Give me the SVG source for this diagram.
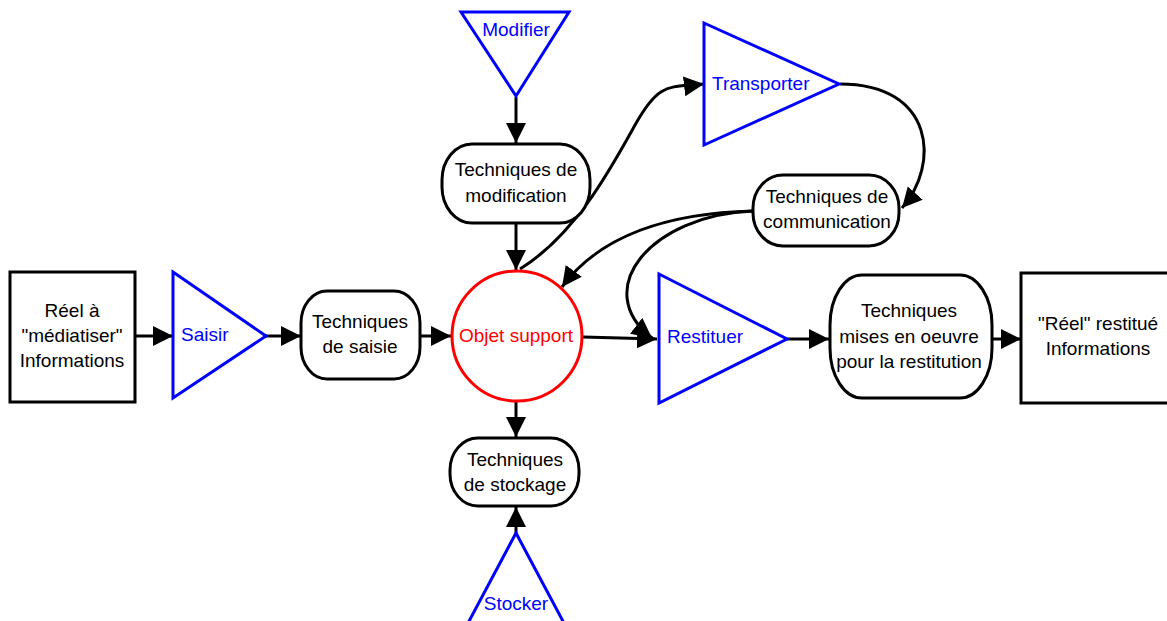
<svg xmlns="http://www.w3.org/2000/svg" width="1167" height="621" viewBox="0 0 1167 621">
<defs>
<marker id="ah" markerUnits="userSpaceOnUse" markerWidth="21" markerHeight="21" refX="20" refY="10" orient="auto" viewBox="0 0 21 21">
<path d="M0,0 L20,10 L0,20 z" fill="#000"/>
</marker>
<style>
.t{font-family:"Liberation Sans",Arial,sans-serif;font-size:19px;fill:#000;text-anchor:middle}
.b{fill:#1a1aff;fill:#0000ff}
.bl{fill:#fff;stroke:#000;stroke-width:3}
.tri{fill:#fff;stroke:#0000ff;stroke-width:3}
.c{fill:none;stroke:#000;stroke-width:3;marker-end:url(#ah)}
</style>
</defs>
<rect width="1167" height="621" fill="#fff"/>
<g id="connectors">
<path class="c" d="M135 336 L173 336"/>
<path class="c" d="M266 336 L301 336"/>
<path class="c" d="M420 336 L451 336"/>
<path class="c" d="M583 337 L657 339"/>
<path class="c" d="M787 339 L829 339"/>
<path class="c" d="M992 339 L1021 339"/>
<path class="c" d="M516 97 L516 143"/>
<path class="c" d="M516 223 L516 270"/>
<path class="c" d="M516 401 L516 437"/>
<path class="c" d="M516 533 L516 507"/>
<path class="c" d="M520 269 C575 235 610 170 635 125 S670 88 704 84"/>
<path class="c" d="M840 84 C935 84 940 165 902 208"/>
<path class="c" d="M753 211 C670 213 600 235 562 287"/>
<path class="c" d="M753 211 C650 215 590 290 652 338"/>
</g>
<g id="reel">
<rect class="bl" x="10" y="272" width="125" height="130"/>
<text class="t" x="72" y="317">Réel à</text>
<text class="t" x="72" y="342">"médiatiser"</text>
<text class="t" x="72" y="367">Informations</text>
</g>
<g id="saisir">
<polygon class="tri" points="173,272 266,336 173,398"/>
<text class="t b" x="181" y="341" style="text-anchor:start">Saisir</text>
</g>
<g id="tech-saisie">
<rect class="bl" x="301" y="291" width="119" height="88" rx="26" ry="32"/>
<text class="t" x="360" y="328">Techniques</text>
<text class="t" x="360" y="353">de saisie</text>
</g>
<g id="objet">
<circle cx="517" cy="336" r="65" fill="#fff" stroke="#ff0000" stroke-width="3"/>
<text class="t" x="516" y="342" style="fill:#ff0000">Objet support</text>
</g>
<g id="modifier">
<polygon class="tri" points="461,12 569,12 516,96"/>
<text class="t b" x="516" y="36">Modifier</text>
</g>
<g id="tech-modif">
<rect class="bl" x="442" y="144" width="148" height="79" rx="30" ry="36"/>
<text class="t" x="516" y="176">Techniques de</text>
<text class="t" x="516" y="202">modification</text>
</g>
<g id="transporter">
<polygon class="tri" points="704,23 839,84 704,145"/>
<text class="t b" x="712" y="90" style="text-anchor:start">Transporter</text>
</g>
<g id="tech-comm">
<rect class="bl" x="753" y="175" width="146" height="71" rx="30" ry="33"/>
<text class="t" x="827" y="203">Techniques de</text>
<text class="t" x="827" y="228">communication</text>
</g>
<g id="restituer">
<polygon class="tri" points="659,274 787,339 659,403"/>
<text class="t b" x="667" y="343" style="text-anchor:start">Restituer</text>
</g>
<g id="tech-restit">
<rect class="bl" x="830" y="275" width="162" height="123" rx="32" ry="50"/>
<text class="t" x="909" y="317">Techniques</text>
<text class="t" x="909" y="343">mises en oeuvre</text>
<text class="t" x="909" y="368">pour la restitution</text>
</g>
<g id="reel-restitue">
<rect class="bl" x="1021" y="273" width="154" height="130"/>
<text class="t" x="1098" y="330">"Réel" restitué</text>
<text class="t" x="1098" y="355">Informations</text>
</g>
<g id="tech-stock">
<rect class="bl" x="450" y="438" width="129" height="68" rx="28" ry="32"/>
<text class="t" x="515" y="466">Techniques</text>
<text class="t" x="515" y="491">de stockage</text>
</g>
<g id="stocker">
<polygon class="tri" points="516,533 459,640 573,640"/>
<text class="t b" x="516" y="610">Stocker</text>
</g>
</svg>
